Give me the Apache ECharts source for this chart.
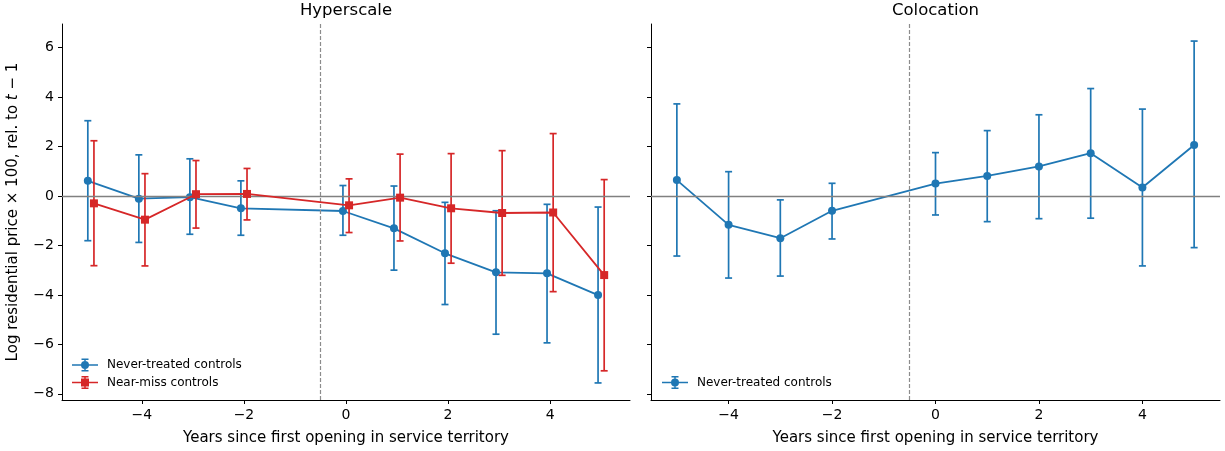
<!DOCTYPE html>
<html>
<head>
<meta charset="utf-8">
<title>Event study</title>
<script src="https://cdn.jsdelivr.net/npm/echarts@6/dist/echarts.min.js"></script>
<style>
  html, body { margin: 0; padding: 0; background: #fff; }
  #chart { width: 1225px; height: 451px; }
</style>
</head>
<body>
<div id="chart"></div>
<script>
// event years
const years = [-5, -4, -3, -2, 0, 1, 2, 3, 4, 5];

// Hyperscale, never-treated controls
const hyperNeverEst = [0.61, -0.11, -0.05, -0.50, -0.61, -1.31, -2.32, -3.09, -3.13, -4.01];
const hyperNeverLo = [-1.81, -1.88, -1.55, -1.59, -1.59, -3.00, -4.39, -5.59, -5.94, -7.56];
const hyperNeverHi = [3.04, 1.66, 1.50, 0.61, 0.42, 0.40, -0.26, -0.60, -0.34, -0.45];

// Hyperscale, near-miss controls
const hyperNearEst = [-0.30, -0.96, 0.07, 0.08, -0.38, -0.07, -0.50, -0.69, -0.67, -3.20];
const hyperNearLo = [-2.82, -2.83, -1.30, -0.97, -1.48, -1.82, -2.72, -3.21, -3.87, -7.07];
const hyperNearHi = [2.23, 0.90, 1.43, 1.11, 0.69, 1.69, 1.71, 1.83, 2.52, 0.66];

// Colocation, never-treated controls
const coloEst = [0.64, -1.17, -1.71, -0.60, 0.50, 0.81, 1.19, 1.73, 0.34, 2.06];
const coloLo = [-2.43, -3.32, -3.24, -1.74, -0.77, -1.04, -0.92, -0.90, -2.83, -2.09];
const coloHi = [3.72, 0.98, -0.16, 0.51, 1.75, 2.64, 3.28, 4.34, 3.51, 6.26];

const xTicks = [-4, -2, 0, 2, 4];
const yTicks = [-8, -6, -4, -2, 0, 2, 4, 6];

const BLUE = '#1f77b4';
const RED = '#d62728';
const FONT = 'DejaVu Sans';
const shift = 0.06; // side-by-side offset in the left panel

function minus(v) {
  return String(v).replace('-', '\u2212');
}

function pts(xs, ys, dx) {
  return xs.map((x, i) => [x + dx, ys[i]]);
}

function bars(xs, lo, hi, dx) {
  return xs.map((x, i) => [x + dx, lo[i], hi[i]]);
}

function errRenderItem(params, api) {
  const x = api.value(0);
  const lo = api.coord([x, api.value(1)]);
  const hi = api.coord([x, api.value(2)]);
  const cap = 3.5;
  const style = { stroke: api.visual('color'), lineWidth: 1.7 };
  return {
    type: 'group',
    children: [
      { type: 'line', shape: { x1: lo[0], y1: lo[1], x2: hi[0], y2: hi[1] }, style: style },
      { type: 'line', shape: { x1: lo[0] - cap, y1: lo[1], x2: lo[0] + cap, y2: lo[1] }, style: style },
      { type: 'line', shape: { x1: hi[0] - cap, y1: hi[1], x2: hi[0] + cap, y2: hi[1] }, style: style }
    ]
  };
}

function xAxisFor(idx, lim) {
  return {
    type: 'value',
    gridIndex: idx,
    min: -lim,
    max: lim,
    name: 'Years since first opening in service territory',
    nameLocation: 'middle',
    nameGap: 31,
    nameTextStyle: { fontSize: 15, color: '#000', fontFamily: FONT },
    axisLine: { onZero: false, lineStyle: { color: '#000', width: 1 } },
    axisTick: { show: true, length: 4, customValues: xTicks, lineStyle: { color: '#000' } },
    axisLabel: {
      customValues: xTicks, margin: 8, fontSize: 14, color: '#000', fontFamily: FONT,
      formatter: minus
    },
    splitLine: { show: false }
  };
}

function yAxisFor(idx, showLabels) {
  const ax = {
    type: 'value',
    gridIndex: idx,
    min: -8.25,
    max: 6.95,
    axisLine: { onZero: false, lineStyle: { color: '#000', width: 1 } },
    axisTick: { show: true, length: 4, customValues: yTicks, lineStyle: { color: '#000' } },
    axisLabel: {
      show: showLabels, customValues: yTicks, margin: 8, fontSize: 14, color: '#000', fontFamily: FONT,
      formatter: minus
    },
    splitLine: { show: false }
  };
  if (showLabels) {
    ax.name = 'Log residential price \u00d7 100, rel. to {i|t} \u2212 1';
    ax.nameLocation = 'middle';
    ax.nameRotate = 90;
    ax.nameGap = 41;
    ax.nameTextStyle = {
      fontSize: 15, color: '#000', fontFamily: FONT,
      rich: { i: { fontStyle: 'italic', fontSize: 15, color: '#000', fontFamily: FONT } }
    };
  }
  return ax;
}

function refLines(idx) {
  return {
    type: 'line',
    name: 'ref',
    xAxisIndex: idx,
    yAxisIndex: idx,
    data: [],
    z: 1,
    silent: true,
    markLine: {
      silent: true,
      symbol: 'none',
      label: { show: false },
      animation: false,
      data: [
        { yAxis: 0, lineStyle: { color: '#808080', width: 1.3, type: 'solid' } },
        { xAxis: -0.5, lineStyle: { color: '#8c8c8c', width: 1.2, type: [4, 2] } }
      ]
    }
  };
}

function errSeries(idx, data, color, z) {
  return {
    type: 'custom',
    name: 'ci',
    xAxisIndex: idx,
    yAxisIndex: idx,
    renderItem: errRenderItem,
    itemStyle: { color: color },
    encode: { x: 0, y: [1, 2] },
    data: data,
    z: z,
    silent: true
  };
}

function lineSeries(idx, name, data, color, symbol, z) {
  return {
    type: 'line',
    name: name,
    xAxisIndex: idx,
    yAxisIndex: idx,
    data: data,
    symbol: symbol,
    symbolSize: 8,
    showAllSymbol: true,
    itemStyle: { color: color },
    lineStyle: { color: color, width: 1.8 },
    z: z,
    silent: true
  };
}

const iconNever = 'path://M0 5.75H26V7.25H0Z M12.25 0H13.75V13H12.25Z M9.5 0H16.5V1.5H9.5Z M9.5 11.5H16.5V13H9.5Z M9 6.5A4 4 0 1 1 17 6.5A4 4 0 1 1 9 6.5Z';
const iconNear = 'path://M0 5.75H26V7.25H0Z M12.25 0H13.75V13H12.25Z M9.5 0H16.5V1.5H9.5Z M9.5 11.5H16.5V13H9.5Z M9 2.5H17V10.5H9Z';

const legendBase = {
  orient: 'vertical',
  padding: 0,
  itemWidth: 26,
  itemHeight: 13,
  itemGap: 4.5,
  selectedMode: false,
  textStyle: { fontSize: 12, color: '#000', fontFamily: FONT, padding: [0, 0, 0, 4] }
};

const option = {
  animation: false,
  backgroundColor: '#fff',
  textStyle: { fontFamily: FONT },
  title: [
    { text: 'Hyperscale', left: 346, top: 2, padding: 0, textAlign: 'center',
      textStyle: { fontSize: 16.5, fontWeight: 'normal', color: '#000', fontFamily: FONT } },
    { text: 'Colocation', left: 935.5, top: 2, padding: 0, textAlign: 'center',
      textStyle: { fontSize: 16.5, fontWeight: 'normal', color: '#000', fontFamily: FONT } }
  ],
  legend: [
    Object.assign({}, legendBase, {
      left: 72, top: 358.5,
      data: [
        { name: 'Never-treated controls', icon: iconNever },
        { name: 'Near-miss controls', icon: iconNear }
      ]
    }),
    Object.assign({}, legendBase, {
      left: 662, top: 376,
      data: [{ name: 'Never-treated controls', icon: iconNever }]
    })
  ],
  grid: [
    { left: 62, top: 24, width: 568, height: 376 },
    { left: 651, top: 24, width: 569, height: 376 }
  ],
  xAxis: [xAxisFor(0, 5.566), xAxisFor(1, 5.5)],
  yAxis: [yAxisFor(0, true), yAxisFor(1, false)],
  series: [
    refLines(0),
    refLines(1),
    errSeries(0, bars(years, hyperNeverLo, hyperNeverHi, -shift), BLUE, 2),
    lineSeries(0, 'Never-treated controls', pts(years, hyperNeverEst, -shift), BLUE, 'circle', 3),
    errSeries(0, bars(years, hyperNearLo, hyperNearHi, shift), RED, 4),
    lineSeries(0, 'Near-miss controls', pts(years, hyperNearEst, shift), RED, 'rect', 5),
    errSeries(1, bars(years, coloLo, coloHi, 0), BLUE, 2),
    lineSeries(1, 'Never-treated controls', pts(years, coloEst, 0), BLUE, 'circle', 3)
  ]
};

const chart = echarts.init(document.getElementById('chart'), null, { renderer: 'canvas' });
chart.setOption(option);
window.addEventListener('resize', () => chart.resize());
</script>
</body>
</html>
